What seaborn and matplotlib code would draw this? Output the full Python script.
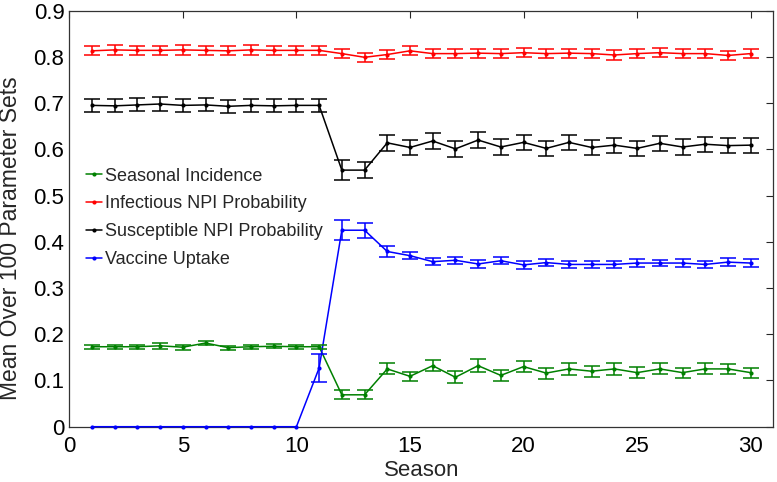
import matplotlib
matplotlib.use("Agg")
import matplotlib.pyplot as plt
import matplotlib.ticker as mticker
import numpy as np
import pandas as pd
import seaborn as sns

sns.set_theme(style="white")
plt.rcParams["font.family"] = ["Liberation Sans", "DejaVu Sans"]

season = np.arange(1, 31)

incidence = [0.173, 0.173, 0.173, 0.175, 0.172, 0.181, 0.171, 0.173, 0.174, 0.173, 0.173,
             0.069, 0.069, 0.125, 0.109, 0.132, 0.107, 0.132, 0.111, 0.130, 0.116, 0.125,
             0.120, 0.125, 0.117, 0.125, 0.117, 0.125, 0.125, 0.117]
incidence_err = [0.004, 0.004, 0.004, 0.006, 0.005, 0.005, 0.004, 0.004, 0.004, 0.004, 0.004,
                 0.010, 0.010, 0.012, 0.010, 0.012, 0.013, 0.014, 0.012, 0.012, 0.012, 0.013,
                 0.012, 0.013, 0.012, 0.012, 0.011, 0.012, 0.011, 0.011]

infectious = [0.813, 0.815, 0.814, 0.814, 0.815, 0.814, 0.813, 0.815, 0.814, 0.814, 0.814,
              0.807, 0.799, 0.805, 0.813, 0.807, 0.807, 0.808, 0.807, 0.809, 0.807, 0.808,
              0.807, 0.804, 0.807, 0.809, 0.807, 0.807, 0.803, 0.807]
infectious_err = [0.010] * 30

susceptible = [0.695, 0.694, 0.696, 0.698, 0.695, 0.696, 0.693, 0.695, 0.694, 0.695, 0.695,
               0.555, 0.555, 0.614, 0.604, 0.618, 0.601, 0.620, 0.605, 0.615, 0.602, 0.615,
               0.604, 0.609, 0.602, 0.613, 0.605, 0.611, 0.608, 0.609]
susceptible_err = [0.014, 0.014, 0.014, 0.016, 0.014, 0.014, 0.014, 0.014, 0.014, 0.014, 0.014,
                   0.022, 0.018, 0.018, 0.016, 0.017, 0.017, 0.018, 0.017, 0.016, 0.017, 0.017,
                   0.017, 0.016, 0.017, 0.016, 0.017, 0.016, 0.017, 0.016]

vaccine = [0, 0, 0, 0, 0, 0, 0, 0, 0, 0, 0.127,
           0.425, 0.425, 0.379, 0.370, 0.357, 0.360, 0.352, 0.359, 0.350, 0.355, 0.351,
           0.351, 0.351, 0.354, 0.354, 0.354, 0.351, 0.356, 0.354]
vaccine_err = [0, 0, 0, 0, 0, 0, 0, 0, 0, 0, 0.030,
               0.022, 0.016, 0.011, 0.008, 0.008, 0.008, 0.008, 0.008, 0.008, 0.008, 0.007,
               0.008, 0.008, 0.008, 0.007, 0.008, 0.008, 0.008, 0.008]

series = [
    ("Seasonal Incidence", incidence, incidence_err, "#008000"),
    ("Infectious NPI Probability", infectious, infectious_err, "#ff0000"),
    ("Susceptible NPI Probability", susceptible, susceptible_err, "#000000"),
    ("Vaccine Uptake", vaccine, vaccine_err, "#0000ff"),
]

df = pd.concat([pd.DataFrame({"Season": season, "value": vals, "err": errs, "series": name})
                for name, vals, errs, _ in series], ignore_index=True)
palette = {name: col for name, _, _, col in series}

fig = plt.figure(figsize=(7.77, 4.82), dpi=100)
ax = fig.add_axes([0.0892, 0.1147, 0.9061, 0.8633])

sns.lineplot(data=df, x="Season", y="value", hue="series", palette=palette,
             hue_order=list(palette), marker="o", markersize=3.0, markeredgewidth=0,
             linewidth=1.1, ax=ax, clip_on=False, zorder=3)

for name, vals, errs, col in series:
    sub = df[(df.series == name) & (df.err > 0)]
    ax.errorbar(sub.Season, sub.value, yerr=sub.err, fmt="none", ecolor=col,
                elinewidth=1.1, capsize=5.5, capthick=1.1, zorder=3)

ax.set_xlim(0, 31)
ax.set_ylim(0, 0.9)
ax.set_xticks([0, 5, 10, 15, 20, 25, 30])
ax.set_yticks(np.arange(0, 0.91, 0.1))
ax.yaxis.set_major_formatter(mticker.FuncFormatter(lambda v, p: "0" if abs(v) < 1e-9 else f"{v:.1f}"))
ax.tick_params(direction="in", length=5, width=0.8, colors="#262626", labelsize=16,
               top=True, right=True, labelcolor="black")
ax.tick_params(axis="x", pad=7)
for sp in ax.spines.values():
    sp.set_color("#333333")
    sp.set_linewidth(0.9)

ax.set_xlabel("Season", fontsize=16)
ax.set_ylabel("Mean Over 100 Parameter Sets", fontsize=16.5)
ax.xaxis.set_label_coords(0.5, -0.08)
ax.yaxis.set_label_coords(-0.0665, 0.452)

leg = ax.legend(loc="center left", bbox_to_anchor=(0.0234, 0.502), frameon=False,
                fontsize=13, handlelength=0.9, handletextpad=0.15, labelspacing=0.6,
                borderaxespad=0, borderpad=0)

fig.savefig("out.png", dpi=100)
